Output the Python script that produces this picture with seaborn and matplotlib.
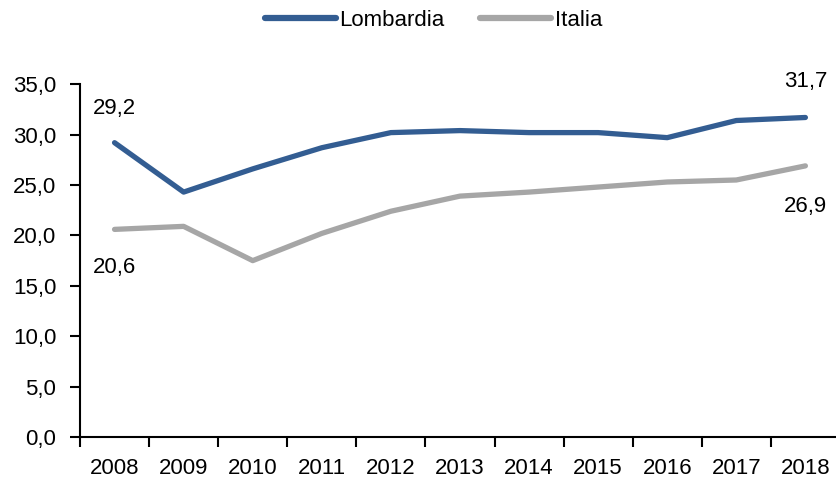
import matplotlib
matplotlib.use("Agg")
import matplotlib.pyplot as plt
import pandas as pd
import numpy as np
import seaborn as sns

years = ["2008", "2009", "2010", "2011", "2012", "2013", "2014", "2015", "2016", "2017", "2018"]
lombardia = [29.2, 24.3, 26.6, 28.7, 30.2, 30.4, 30.2, 30.2, 29.7, 31.4, 31.7]
italia = [20.6, 20.9, 17.5, 20.2, 22.4, 23.9, 24.3, 24.8, 25.3, 25.5, 26.9]

df = pd.DataFrame({
    "pos": list(range(len(years))) * 2,
    "valore": lombardia + italia,
    "serie": ["Lombardia"] * len(years) + ["Italia"] * len(years),
})

sns.set_style("white")
plt.rcParams["font.family"] = ["Liberation Sans", "DejaVu Sans"]
plt.rcParams["text.color"] = "black"
plt.rcParams["xtick.color"] = "black"
plt.rcParams["ytick.color"] = "black"

fig = plt.figure(figsize=(8.36, 4.84), dpi=100)
ax = fig.add_axes([0.0957, 0.097, 0.909, 0.729])

sns.lineplot(data=df, x="pos", y="valore", hue="serie",
             palette={"Lombardia": "#335d92", "Italia": "#a6a6a6"},
             linewidth=3.8, ax=ax, legend=True)
for ln in ax.lines:
    ln.set_solid_capstyle("round")
    ln.set_solid_joinstyle("round")

fs = 16
ax.set_ylim(0, 35)
ax.set_xlim(-0.5, len(years) - 0.5)
ax.set_yticks(np.arange(0, 36, 5))
ax.set_yticklabels([f"{v:.1f}".replace(".", ",") for v in np.arange(0, 36, 5)], fontsize=fs)

# ticks between the categories, labels at the centres
ax.set_xticks(np.arange(-0.5, len(years), 1))
ax.set_xticklabels([])
ax.set_xticks(np.arange(len(years)), minor=True)
ax.set_xticklabels(years, minor=True, fontsize=fs)
ax.tick_params(axis="x", which="minor", bottom=True, length=0, pad=15)
ax.tick_params(axis="both", which="major", bottom=True, left=True, length=7, width=1.5,
               direction="out", color="black")
ax.tick_params(axis="y", pad=10)
ax.set_xlabel("")
ax.set_ylabel("")

for s in ["top", "right"]:
    ax.spines[s].set_visible(False)
for s in ["left", "bottom"]:
    ax.spines[s].set_color("black")
    ax.spines[s].set_linewidth(1.5)

def fmt(v):
    return f"{v:.1f}".replace(".", ",")

ax.text(0, lombardia[0] + 3.4, fmt(lombardia[0]), fontsize=fs, ha="center", va="center")
ax.text(0, italia[0] - 3.8, fmt(italia[0]), fontsize=fs, ha="center", va="center")
ax.text(len(years) - 1, lombardia[-1] + 3.6, fmt(lombardia[-1]), fontsize=fs, ha="center", va="center")
ax.text(len(years) - 1, italia[-1] - 4.0, fmt(italia[-1]), fontsize=fs, ha="center", va="center")

leg = ax.legend(loc="center", bbox_to_anchor=(0.465, 1.18), ncol=2, frameon=False,
                fontsize=fs, handlelength=3.2, handletextpad=0.15, columnspacing=1.6)
for h in leg.get_lines():
    h.set_linewidth(4.5)
    h.set_solid_capstyle("round")

fig.savefig("out.png", dpi=100)
